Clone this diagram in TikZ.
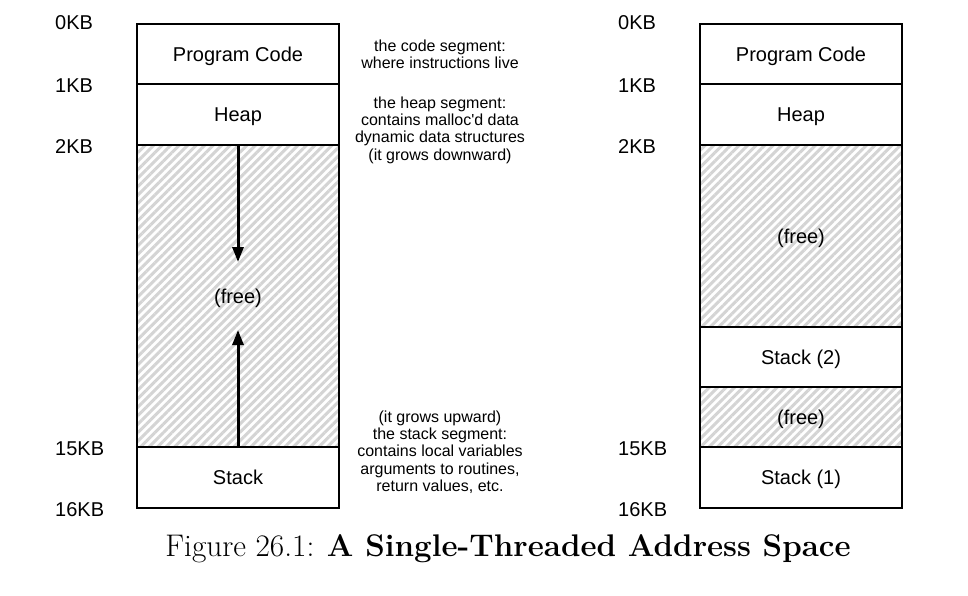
\documentclass[tikz,border=0pt]{standalone}
\usepackage{fontspec}
\newfontfamily\helv{Liberation Sans}
\usetikzlibrary{arrows.meta,positioning,patterns.meta}

\begin{document}
\begin{tikzpicture}[x=1pt,y=-1pt]
        \tikzstyle{seg}=[draw=black, line width=1.5pt, minimum width=202pt, outer sep=0pt, inner sep=0pt, text depth=0pt, font=\helv\fontsize{20}{24}\selectfont]
        \tikzstyle{free}=[seg, pattern={Lines[angle=45,distance=6pt,line width=3pt]}, pattern color=black!17]
        \tikzstyle{kb}=[anchor=west, inner sep=0pt, text depth=0pt, font=\helv\fontsize{20}{24}\selectfont]
        \tikzstyle{note}=[align=center, inner sep=0pt, font=\helv\fontsize{16}{17.3}\selectfont]
        \tikzstyle{connect}=[-{Triangle[length=15pt,width=11pt]}, line width=3pt]
        \useasboundingbox (0,0) rectangle (968,596);
        % left address space
        \node[seg,minimum height=60pt] (lcode) at (238,54) {Program Code};
        \node[seg,minimum height=61pt] (lheap) [below=0pt of lcode] {Heap};
        \node[free,minimum height=302pt] (lfree) [below=0pt of lheap] {(free)};
        \node[seg,minimum height=61pt] (lstack) [below=0pt of lfree] {Stack};
        \coordinate (downtip) at (238,262);
        \coordinate (uptip) at (238,330);
        \draw[connect] (lfree.north) -- (downtip);
        \draw[connect] (lstack.north) -- (uptip);
        \node[kb] (l0) at (55,23) {0KB};
        \node[kb] (l1) at (55,86) {1KB};
        \node[kb] (l2) at (55,147) {2KB};
        \node[kb] (l15) at (55,449) {15KB};
        \node[kb] (l16) at (55,510) {16KB};
        % notes
        \node[note] (ncode) at (440,54) {the code segment:\\where instructions live};
        \node[note] (nheap) at (440,130) {the heap segment:\\contains malloc'd data\\dynamic data structures\\(it grows downward)};
        \node[note] (nstack) at (440,452) {(it grows upward)\\the stack segment:\\contains local variables\\arguments to routines,\\return values, etc.};
        % right address space
        \node[seg,minimum height=60pt] (rcode) at (801,54) {Program Code};
        \node[seg,minimum height=61pt] (rheap) [below=0pt of rcode] {Heap};
        \node[free,minimum height=182pt] (rfreea) [below=0pt of rheap] {(free)};
        \node[seg,minimum height=60pt] (rstackb) [below=0pt of rfreea] {Stack (2)};
        \node[free,minimum height=60pt] (rfreeb) [below=0pt of rstackb] {(free)};
        \node[seg,minimum height=61pt] (rstacka) [below=0pt of rfreeb] {Stack (1)};
        \node[kb] (r0) at (618,23) {0KB};
        \node[kb] (r1) at (618,86) {1KB};
        \node[kb] (r2) at (618,147) {2KB};
        \node[kb] (r15) at (618,449) {15KB};
        \node[kb] (r16) at (618,510) {16KB};
        % caption
        \node[inner sep=0pt, font=\fontsize{31.3}{37}\selectfont] (caption) at (508,549) {Figure 26.1: \textbf{A Single-Threaded Address Space}};
\end{tikzpicture}
\end{document}
